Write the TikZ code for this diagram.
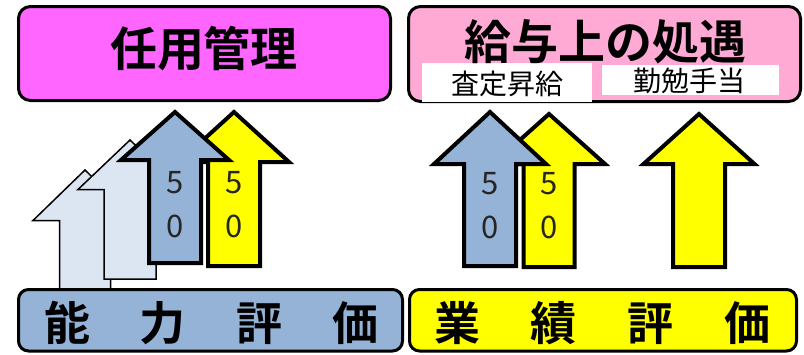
\documentclass[tikz,border=0pt]{standalone}
\usepackage{fontspec}
\newfontfamily\jp{Noto Sans CJK JP}
\newfontfamily\jpb{Noto Sans CJK JP Bold}
\definecolor{magbox}{HTML}{FF66FF}
\definecolor{pinkbox}{HTML}{FFAAD5}
\definecolor{bluearr}{HTML}{95B3D7}
\definecolor{lightarr}{HTML}{DCE6F2}
\definecolor{yelarr}{HTML}{FFFF00}
% #1 style, #2 tip x, #3 tip y, #4 head half width, #5 shaft half width, #6 head base y, #7 bottom y
\newcommand\uparr[7]{%
  \draw[#1] (#2,#3) -- ({#2+#4},#6) -- ({#2+#5},#6) -- ({#2+#5},#7) -- ({#2-#5},#7)
    -- ({#2-#5},#6) -- ({#2-#4},#6) -- cycle;}
\tikzset{
  thickarr/.style={draw=black, line width=4pt, miter limit=10},
  thinarr/.style={draw=black, line width=1.5pt, fill=lightarr, miter limit=10},
  topbox/.style={draw=black, line width=3pt, rounded corners=12pt},
  botbox/.style={draw=black, line width=3pt, rounded corners=10pt},
  title/.style={font=\jpb\fontsize{47}{47}\selectfont, anchor=base, inner sep=0pt},
  sub/.style={font=\jp\fontsize{28}{28}\selectfont, anchor=base, inner sep=0pt},
  bot/.style={font=\jpb\fontsize{46}{46}\selectfont, anchor=base, inner sep=0pt},
  num/.style={font=\jp\fontsize{31}{31}\selectfont, anchor=base, inner sep=0pt, text=black!85},
}
\begin{document}
\begin{tikzpicture}[x=1pt, y=-1pt]
\useasboundingbox (0,0) rectangle (804,354);
% top boxes
\draw[topbox, fill=magbox] (18.5,6.5) rectangle (390.5,100.5);
\draw[topbox, fill=pinkbox] (408.5,6.5) rectangle (800.5,101.5);
\fill[white] (422,63) rectangle (592,102);
\fill[white] (602,65) rectangle (779,95);
\node[title] (t1) at (204,66) {任用管理};
\node[title] (t2) at (605,59) {給与上の処遇};
\node[sub] (s1) at (507,94) {査定昇給};
\node[sub] (s2) at (689,91) {勤勉手当};
% left arrows
\uparr{thinarr}{85}{170}{52}{25.5}{220.5}{300}
\uparr{thinarr}{130}{140}{52}{26}{189.5}{279}
\uparr{thickarr, fill=yelarr}{234}{112}{55}{26}{162}{266}
\uparr{thickarr, fill=bluearr}{175}{112}{54}{26}{160}{263}
\node[num] (l5a) at (175,193.5) {5};
\node[num] (l0a) at (175,237) {0};
\node[num] (l5b) at (234,193.5) {5};
\node[num] (l0b) at (234,237) {0};
% right arrows
\uparr{thickarr, fill=yelarr}{549}{114}{56}{25.5}{164}{267}
\uparr{thickarr, fill=bluearr}{490}{112}{56}{26}{164}{266}
\uparr{thickarr, fill=yelarr}{699}{114}{55.5}{26}{164}{267}
\node[num] (r5a) at (490,194.5) {5};
\node[num] (r0a) at (490,238.5) {0};
\node[num] (r5b) at (549,194.5) {5};
\node[num] (r0b) at (549,238.5) {0};
% bottom boxes
\draw[botbox, fill=bluearr] (18.5,289.5) rectangle (402.5,351);
\draw[botbox, fill=yelarr] (409.5,289.5) rectangle (796.5,351);
\node[bot] (b1) at (67,340) {能};
\node[bot] (b2) at (162,340) {力};
\node[bot] (b3) at (259,340) {評};
\node[bot] (b4) at (355,340) {価};
\node[bot] (b5) at (457,340) {業};
\node[bot] (b6) at (553,340) {績};
\node[bot] (b7) at (650,340) {評};
\node[bot] (b8) at (747,340) {価};
\end{tikzpicture}
\end{document}
